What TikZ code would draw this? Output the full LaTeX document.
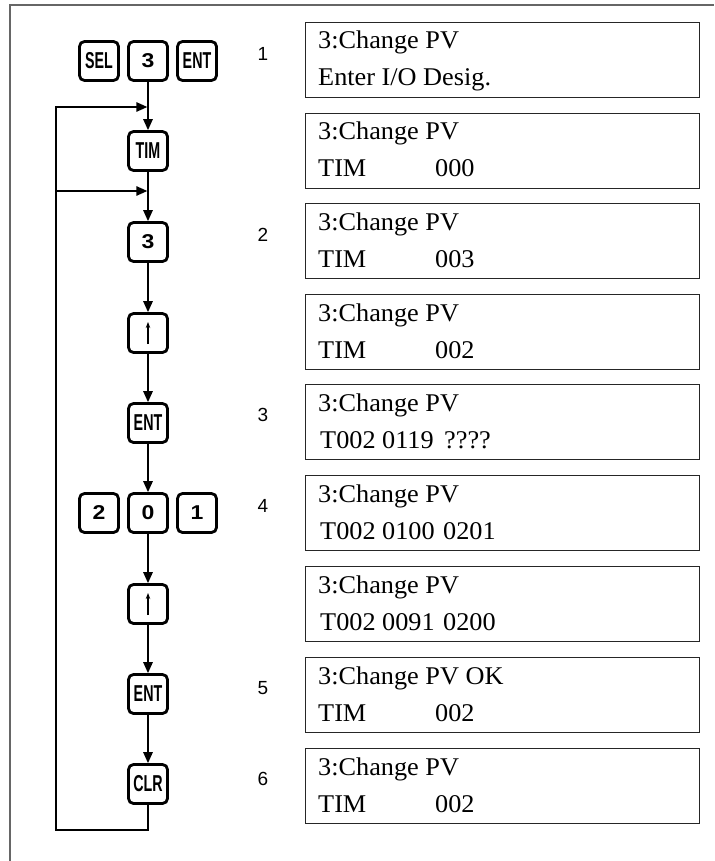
\documentclass[tikz,border=0pt]{standalone}
\usepackage{fontspec}
\usetikzlibrary{arrows.meta}
\setmainfont{Liberation Serif}
\newfontfamily\lcdfont[FakeStretch=1.03]{Liberation Serif}
\newfontfamily\keyfont[FakeStretch=0.62]{Liberation Sans}
\newfontfamily\digfont[FakeStretch=1.15]{Liberation Sans}
\newfontfamily\labfont{Liberation Sans}
\begin{document}
\begin{tikzpicture}[x=1pt,y=-1pt,
  key/.style={draw, line width=2.8pt, rounded corners=5pt, minimum width=39pt, minimum height=39pt, inner sep=0pt, font={\fontsize{23pt}{23pt}\keyfont\bfseries}},
  dkey/.style={key, font={\fontsize{20pt}{20pt}\digfont\bfseries}},
  lcd/.style={draw=black!85, line width=1.3pt, minimum width=394pt, minimum height=75pt, inner sep=0pt, anchor=north west},
  txt/.style={anchor=base west, inner sep=0pt, font={\fontsize{25.5pt}{25.5pt}\lcdfont}},
  lab/.style={inner sep=0pt, font={\fontsize{19pt}{19pt}\labfont}},
  flow/.style={-{Triangle[length=11pt,width=9.5pt]}, line width=1.4pt},
  uparr/.style={-{Stealth[length=6pt,width=4.5pt]}, line width=1.2pt}]
\useasboundingbox (0,0) rectangle (714,861);
% outer frame (top and left)
\draw[line width=2.2pt, black!60] (10,861) -- (10,5) -- (714,5);

% keys
\node[key]  (sel)  at (99,61)  {SEL};
\node[dkey] (k3a)  at (148,61) {3};
\node[key]  (ent1) at (197,61) {ENT};
\node[key]  (tim)  at (148,151) {TIM};
\node[dkey] (k3b)  at (148,242) {3};
\node[key]  (up1)  at (148,333) {};
\node[key]  (ent2) at (148,423) {ENT};
\node[dkey] (k2)   at (99,513)  {2};
\node[dkey] (k0)   at (148,513) {0};
\node[dkey] (k1)   at (197,513) {1};
\node[key]  (up2)  at (148,604) {};
\node[key]  (ent3) at (148,694) {ENT};
\node[key]  (clr)  at (148,784) {CLR};
\draw[uparr] ([yshift=-11pt]up1.center) -- ([yshift=11pt]up1.center);
\draw[uparr] ([yshift=-11pt]up2.center) -- ([yshift=11pt]up2.center);

% junctions of the loop
\coordinate (j1) at (148,107);
\coordinate (j2) at (148,191);
\coordinate (lt) at (56,107);
\coordinate (lm) at (56,191);
\coordinate (lb) at (56,830);

% connectors
\draw[flow] (k3a) -- (tim);
\draw[flow] (tim) -- (k3b);
\draw[flow] (k3b) -- (up1);
\draw[flow] (up1) -- (ent2);
\draw[flow] (ent2) -- (k0);
\draw[flow] (k0) -- (up2);
\draw[flow] (up2) -- (ent3);
\draw[flow] (ent3) -- (clr);
\draw[flow, shorten >=0.7pt] (clr.south) |- (lb) -- (lt) -- (j1);
\draw[flow, shorten >=0.7pt] (lm) -- (j2);

% display boxes
\node[lcd] (b1) at (305,22)  {};
\node[lcd] (b2) at (305,113) {};
\node[lcd] (b3) at (305,203) {};
\node[lcd] (b4) at (305,294) {};
\node[lcd] (b5) at (305,384) {};
\node[lcd] (b6) at (305,475) {};
\node[lcd] (b7) at (305,566) {};
\node[lcd] (b8) at (305,657) {};
\node[lcd] (b9) at (305,748) {};

% texts
\node[txt] (t1a) at (318,49)  {3:Change PV};
\node[txt] (t1b) at (318,86)  {Enter I/O Desig.};
\node[txt] (t2a) at (318,140) {3:Change PV};
\node[txt] (t2b) at (318,177) {TIM};
\node[txt] (t2c) at (435,177) {000};
\node[txt] (t3a) at (318,230) {3:Change PV};
\node[txt] (t3b) at (318,267) {TIM};
\node[txt] (t3c) at (435,267) {003};
\node[txt] (t4a) at (318,321) {3:Change PV};
\node[txt] (t4b) at (318,358) {TIM};
\node[txt] (t4c) at (435,358) {002};
\node[txt] (t5a) at (318,411) {3:Change PV};
\node[txt] (t5b) at (320,448) {T002};
\node[txt] (t5c) at (382,448) {0119};
\node[txt] (t5d) at (444,448) {????};
\node[txt] (t6a) at (318,502) {3:Change PV};
\node[txt] (t6b) at (320,539) {T002};
\node[txt] (t6c) at (382,539) {0100};
\node[txt] (t6d) at (443,539) {0201};
\node[txt] (t7a) at (318,593) {3:Change PV};
\node[txt] (t7b) at (320,630) {T002};
\node[txt] (t7c) at (382,630) {0091};
\node[txt] (t7d) at (443,630) {0200};
\node[txt] (t8a) at (318,684) {3:Change PV OK};
\node[txt] (t8b) at (318,721) {TIM};
\node[txt] (t8c) at (435,721) {002};
\node[txt] (t9a) at (318,775) {3:Change PV};
\node[txt] (t9b) at (318,812) {TIM};
\node[txt] (t9c) at (435,812) {002};

% step numbers
\node[lab] (n1) at (263,54)  {1};
\node[lab] (n2) at (263,235) {2};
\node[lab] (n3) at (263,415) {3};
\node[lab] (n4) at (263,506) {4};
\node[lab] (n5) at (263,688) {5};
\node[lab] (n6) at (263,779) {6};
\end{tikzpicture}
\end{document}
